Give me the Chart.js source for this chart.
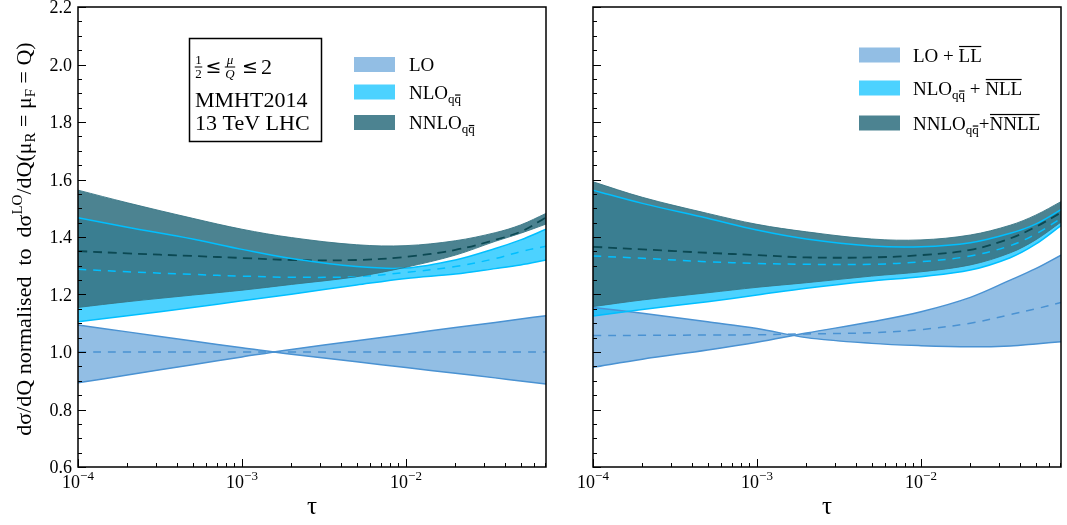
<!DOCTYPE html>
<html>
<head>
<meta charset="utf-8">
<script src="https://cdn.jsdelivr.net/npm/chart.js@4.4.1/dist/chart.umd.min.js"></script>
<style>
  body { margin: 0; background: #fff; }
  #wrap { position: relative; width: 1067px; height: 525px; }
  canvas { position: absolute; top: 0; }
</style>
</head>
<body>
<div id="wrap">
  <canvas id="left" width="560" height="525" style="left:0"></canvas>
  <canvas id="right" width="507" height="525" style="left:560px"></canvas>
</div>
<script>
// tau sampling points (log axis)
const tau = [1e-4, 2e-4, 5e-4, 1e-3, 2e-3, 5e-3, 1e-2, 2e-2, 3.5e-2, 5e-2, 0.0714]

// left panel: fixed order, scale band edges (mu = Q/2, 2Q) and central (mu = Q)
const loA     = [1.094, 1.070, 1.038, 1.015, 0.992, 0.966, 0.946, 0.926, 0.910, 0.899, 0.889]
const loB     = [0.893, 0.920, 0.956, 0.983, 1.009, 1.039, 1.062, 1.085, 1.103, 1.115, 1.126]
const loMid   = [1.0, 1.0, 1.0, 1.0, 1.0, 1.0, 1.0, 1.0, 1.0, 1.0, 1.0]
const nloA    = [1.467, 1.434, 1.393, 1.357, 1.325, 1.297, 1.292, 1.320, 1.360, 1.390, 1.427]
const nloB    = [1.105, 1.126, 1.155, 1.178, 1.201, 1.233, 1.256, 1.271, 1.290, 1.303, 1.320]
const nloMid  = [1.288, 1.279, 1.270, 1.264, 1.260, 1.262, 1.277, 1.297, 1.325, 1.349, 1.368]
const nnloA   = [1.563, 1.519, 1.465, 1.427, 1.398, 1.373, 1.370, 1.387, 1.415, 1.442, 1.482]
const nnloB   = [1.155, 1.175, 1.198, 1.215, 1.235, 1.262, 1.295, 1.337, 1.385, 1.413, 1.445]
const nnloMid = [1.351, 1.343, 1.334, 1.327, 1.320, 1.320, 1.331, 1.355, 1.390, 1.418, 1.468]

// right panel: matched to resummation
const rLoA     = [1.155, 1.135, 1.105, 1.082, 1.050, 1.030, 1.022, 1.018, 1.021, 1.028, 1.036]
const rLoB     = [0.947, 0.975, 1.007, 1.034, 1.066, 1.105, 1.140, 1.190, 1.250, 1.290, 1.337]
const rLoMid   = [1.057, 1.058, 1.059, 1.060, 1.063, 1.067, 1.078, 1.100, 1.130, 1.150, 1.172]
const rNloA    = [1.563, 1.517, 1.465, 1.424, 1.393, 1.369, 1.366, 1.380, 1.413, 1.445, 1.495]
const rNloB    = [1.125, 1.148, 1.175, 1.198, 1.222, 1.247, 1.262, 1.285, 1.328, 1.375, 1.440]
const rNloMid  = [1.334, 1.326, 1.314, 1.308, 1.305, 1.305, 1.314, 1.334, 1.370, 1.410, 1.465]
const rNnloA   = [1.592, 1.538, 1.482, 1.444, 1.418, 1.393, 1.390, 1.407, 1.441, 1.476, 1.523]
const rNnloB   = [1.158, 1.181, 1.206, 1.225, 1.241, 1.264, 1.279, 1.303, 1.345, 1.390, 1.452]
const rNnloMid = [1.366, 1.357, 1.345, 1.337, 1.329, 1.329, 1.337, 1.355, 1.395, 1.435, 1.485]

const yTicks = [0.6, 0.8, 1.0, 1.2, 1.4, 1.6, 1.8, 2.0, 2.2]
const xTicks = [1e-4, 1e-3, 1e-2]
const xTickExp = ["\u22124", "\u22123", "\u22122"]

const serif = '"Liberation Serif", "Times New Roman", serif'
const loFill = 'rgba(74,146,210,0.6)', loLine = 'rgb(74,146,210)'
const nloFill = 'rgba(0,191,255,0.7)', nloLine = 'rgb(0,191,255)'
const nnloFill = 'rgba(56,117,133,0.9)', nnloLine = 'rgba(56,117,133,0.9)'
const nnloDash = '#0b4953'

const pts = arr => arr.map((v, i) => ({x: tau[i], y: v}))

function font(r){
    return (r.it ? 'italic ' : '') + r.s + 'px ' + serif
}

function drawRuns(ctx, runs, x, y, align){
    ctx.textAlign = 'left'
    let w = 0
    runs.forEach(r => { ctx.font = font(r); w += ctx.measureText(r.t).width })
    let cx = align === 'center' ? x - w / 2 : x
    runs.forEach(r => {
        ctx.font = font(r)
        const by = y - (r.dy || 0)
        ctx.fillText(r.t, cx, by)
        const tw = ctx.measureText(r.t).width
        if(r.bar){
            const from = r.bar === 'last' ? ctx.measureText(r.t.slice(0, -1)).width : 0
            ctx.fillRect(cx + from + 0.5, by - r.s * r.barH, tw - from - 1, 1.2)
        }
        cx += tw
    })
}

const sub = {t: 'qq', s: 13, dy: -4, bar: 'last', barH: 0.62}

function bandDatasets(d){
    const base = {pointRadius: 0, tension: 0.35, fill: false}
    return [
        {...base, data: pts(d.nnloA), fill: 1, backgroundColor: nnloFill, borderColor: nnloLine, borderWidth: 1},
        {...base, data: pts(d.nnloB), borderColor: nnloLine, borderWidth: 1},
        {...base, data: pts(d.nloA), fill: 3, backgroundColor: nloFill, borderColor: nloLine, borderWidth: 1.5},
        {...base, data: pts(d.nloB), borderColor: nloLine, borderWidth: 1.5},
        {...base, data: pts(d.loA), fill: 5, backgroundColor: loFill, borderColor: loLine, borderWidth: 1.5},
        {...base, data: pts(d.loB), borderColor: loLine, borderWidth: 1.5},
        {...base, data: pts(d.nnloMid), borderColor: nnloDash, borderWidth: 1.8, borderDash: [9, 6]},
        {...base, data: pts(d.nloMid), borderColor: nloLine, borderWidth: 1.5, borderDash: [8, 7]},
        {...base, data: pts(d.loMid), borderColor: loLine, borderWidth: 1.5, borderDash: [8, 7]}
    ]
}

function axesPlugin(showYLabels){
    return {
        id: 'axes',
        afterDatasetsDraw(chart){
            const {ctx, chartArea: a, scales: {x, y}} = chart
            ctx.save()
            ctx.fillStyle = '#000'
            ctx.strokeStyle = '#000'
            ctx.lineWidth = 1
            // y ticks, inward, every 0.05
            for(let i = 12; i <= 44; i++){
                const py = Math.round(y.getPixelForValue(i * 0.05)) + 0.5
                const len = i % 4 === 0 ? 8 : 4
                ctx.beginPath(); ctx.moveTo(a.left, py); ctx.lineTo(a.left + len, py); ctx.stroke()
            }
            // x ticks: decades and minor
            for(let k = -4; k <= -2; k++){
                for(let m = 1; m <= 9; m++){
                    const v = m * Math.pow(10, k)
                    if(v > x.max) continue
                    const px = Math.round(x.getPixelForValue(v)) + 0.5
                    const len = m === 1 ? 8 : 4
                    ctx.beginPath(); ctx.moveTo(px, a.bottom); ctx.lineTo(px, a.bottom - len); ctx.stroke()
                }
            }
            ctx.lineWidth = 1.5
            ctx.strokeRect(a.left, a.top, a.right - a.left, a.bottom - a.top)

            ctx.textBaseline = 'alphabetic'
            if(showYLabels){
                ctx.font = '18px ' + serif
                ctx.textAlign = 'right'
                yTicks.forEach(v => {
                    ctx.fillText(v.toFixed(1), a.left - 6, y.getPixelForValue(v) + 6)
                })
            }
            xTicks.forEach((v, i) => {
                drawRuns(ctx, [{t: '10', s: 18}, {t: xTickExp[i], s: 13, dy: 8}], x.getPixelForValue(v), a.bottom + 21, 'center')
            })
            drawRuns(ctx, [{t: '\u03c4', s: 25}], (a.left + a.right) / 2, a.bottom + 47, 'center')
            ctx.restore()
        }
    }
}

function legendPlugin(boxX, textX, rows){
    return {
        id: 'legendBoxes',
        afterDraw(chart){
            const ctx = chart.ctx
            ctx.save()
            rows.forEach(r => {
                ctx.fillStyle = '#fff'
                ctx.fillRect(boxX, r.y - 7, 41, 15)
                ctx.fillStyle = r.color
                ctx.fillRect(boxX, r.y - 7, 41, 15)
                ctx.fillStyle = '#000'
                drawRuns(ctx, r.runs, textX, r.y + 7, 'left')
            })
            ctx.restore()
        }
    }
}

const leftDecor = {
    id: 'leftDecor',
    afterDraw(chart){
        const ctx = chart.ctx
        ctx.save()
        ctx.fillStyle = '#000'
        ctx.strokeStyle = '#000'
        // info box
        ctx.lineWidth = 1.5
        ctx.strokeRect(189.5, 38.5, 132, 103)
        const B = 74
        const frac = (num, den, cx, it) => {
            ctx.textAlign = 'center'
            ctx.font = (it ? 'italic ' : '') + '13px ' + serif
            ctx.fillText(num, cx, B - 10)
            ctx.fillText(den, cx, B + 4)
            const w = Math.max(ctx.measureText(num).width, ctx.measureText(den).width) + 1
            ctx.fillRect(cx - w / 2, B - 7.5, w, 1)
        }
        frac('1', '2', 198.5, false)
        frac('\u03bc', 'Q', 230, true)
        ctx.textAlign = 'center'
        ctx.font = '19px "DejaVu Sans", sans-serif'
        ctx.fillText('\u2264', 213.5, B - 1)
        ctx.fillText('\u2264', 250, B - 1)
        ctx.textAlign = 'left'
        ctx.font = '22px ' + serif
        ctx.fillText('2', 261, B)
        ctx.fillText('MMHT2014', 195, 107)
        ctx.fillText('13 TeV LHC', 195, 130)

        // y axis title
        ctx.translate(31, 239)
        ctx.rotate(-Math.PI / 2)
        drawRuns(ctx, [
            {t: 'd\u03c3/dQ normalised  to  d\u03c3', s: 22},
            {t: 'LO', s: 15, dy: 9},
            {t: '/dQ(\u03bc', s: 22},
            {t: 'R', s: 15, dy: -4},
            {t: ' = \u03bc', s: 22},
            {t: 'F', s: 15, dy: -4},
            {t: ' = Q)', s: 22}
        ], 0, 0, 'center')
        ctx.restore()
    }
}

function makeChart(id, d, padding, plugins){
    return new Chart(document.getElementById(id), {
        type: 'line',
        data: {datasets: bandDatasets(d)},
        options: {
            responsive: false,
            animation: false,
            layout: {padding: padding},
            scales: {
                x: {type: 'logarithmic', min: 1e-4, max: 0.0714, display: false},
                y: {type: 'linear', min: 0.6, max: 2.2, display: false}
            },
            plugins: {
                legend: {display: false},
                tooltip: {enabled: false},
                filler: {drawTime: 'beforeDatasetsDraw', propagate: false}
            }
        },
        plugins: plugins
    })
}

makeChart('left', {loA, loB, loMid, nloA, nloB, nloMid, nnloA, nnloB, nnloMid},
    {left: 78, right: 14, top: 7, bottom: 58},
    [axesPlugin(true), leftDecor, legendPlugin(354, 409, [
        {y: 64, color: loFill, runs: [{t: 'LO', s: 19}]},
        {y: 91.5, color: nloFill, runs: [{t: 'NLO', s: 19}, sub]},
        {y: 122, color: nnloFill, runs: [{t: 'NNLO', s: 19}, sub]}
    ])])

makeChart('right', {loA: rLoA, loB: rLoB, loMid: rLoMid, nloA: rNloA, nloB: rNloB, nloMid: rNloMid, nnloA: rNnloA, nnloB: rNnloB, nnloMid: rNnloMid},
    {left: 33, right: 6, top: 7, bottom: 58},
    [axesPlugin(false), legendPlugin(299, 353, [
        {y: 54.5, color: loFill, runs: [{t: 'LO', s: 19}, {t: ' + ', s: 19}, {t: 'LL', s: 19, bar: 'all', barH: 0.82}]},
        {y: 87.5, color: nloFill, runs: [{t: 'NLO', s: 19}, sub, {t: ' + ', s: 19}, {t: 'NLL', s: 19, bar: 'all', barH: 0.82}]},
        {y: 122.5, color: nnloFill, runs: [{t: 'NNLO', s: 19}, sub, {t: '+', s: 19}, {t: 'NNLL', s: 19, bar: 'all', barH: 0.82}]}
    ])])
</script>
</body>
</html>
